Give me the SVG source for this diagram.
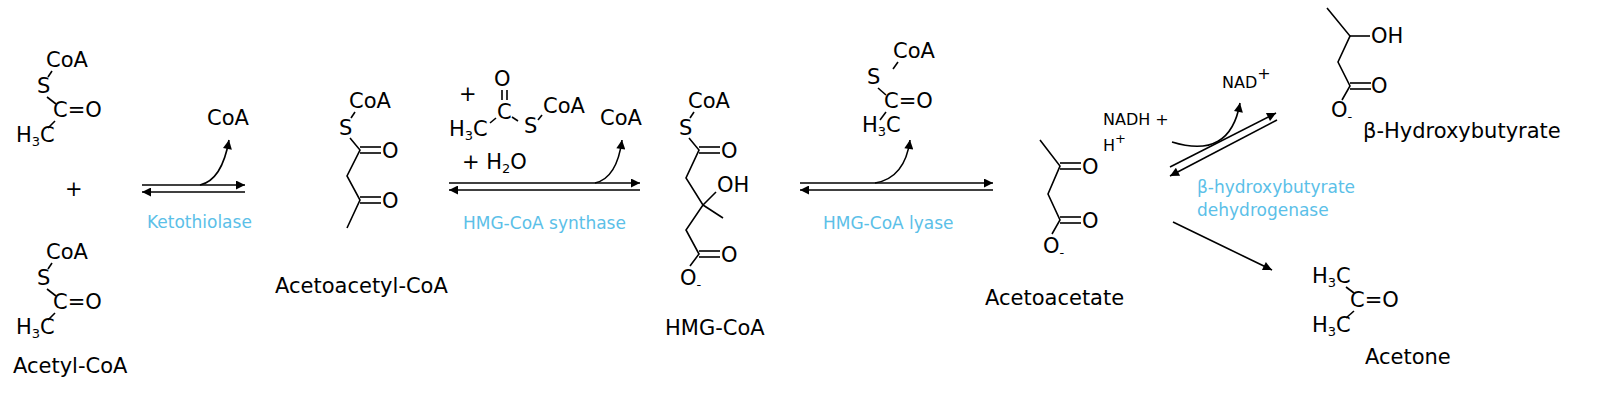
<svg xmlns="http://www.w3.org/2000/svg" width="1600" height="408" viewBox="0 0 1600 408">
<defs>
<marker id="ah" viewBox="0 0 10 10" refX="10" refY="5" markerWidth="17" markerHeight="9" markerUnits="userSpaceOnUse" orient="auto"><path d="M0,0L10,5L0,10z" style="fill:#000;stroke:none"/></marker>
<style>
text{font-family:"DejaVu Sans",sans-serif;font-size:21px;fill:#000}
.s{font-size:13px}
.e{font-size:17px;fill:#5bc0e8}
.n{font-size:16px}
line,path{stroke:#000;stroke-width:1.6;fill:none}
</style>
</defs>
<rect width="1600" height="408" fill="#fff"/>
<g id="acetylcoa1">
<text x="46" y="67">CoA</text><line x1="52" y1="71" x2="48" y2="77"/>
<text x="37" y="93">S</text><line x1="47" y1="97" x2="56" y2="104"/>
<text x="53" y="117">C=O</text><line x1="55" y1="121" x2="48" y2="128"/>
<text x="16" y="142">H<tspan class="s" dy="4">3</tspan><tspan dy="-4">C</tspan></text>
</g>
<text id="plus1" x="65" y="196">+</text>
<g id="acetylcoa2">
<text x="46" y="259">CoA</text><line x1="52" y1="263" x2="48" y2="269"/>
<text x="37" y="285">S</text><line x1="47" y1="289" x2="56" y2="296"/>
<text x="53" y="309">C=O</text><line x1="55" y1="313" x2="48" y2="320"/>
<text x="16" y="334">H<tspan class="s" dy="4">3</tspan><tspan dy="-4">C</tspan></text>
<text x="13" y="373">Acetyl-CoA</text>
</g>
<g id="acetoacetylcoa">
<text x="349" y="108">CoA</text><line x1="355" y1="112" x2="351" y2="118"/>
<text x="339" y="135">S</text>
<path d="M350,138L360,150L347,176L360,200L347,228"/>
<line x1="360" y1="147" x2="381" y2="147"/><line x1="360" y1="153" x2="381" y2="153"/>
<line x1="360" y1="197" x2="381" y2="197"/><line x1="360" y1="203" x2="381" y2="203"/>
<text x="382" y="158">O</text><text x="382" y="208">O</text>
<text x="275" y="293">Acetoacetyl-CoA</text>
</g>
<g id="hmgcoa">
<text x="688" y="108">CoA</text><line x1="694" y1="112" x2="690" y2="118"/>
<text x="679" y="135">S</text>
<path d="M689,138L699,150L686,178L703,205L686,230L699,254L690,266"/>
<line x1="699" y1="147" x2="720" y2="147"/><line x1="699" y1="153" x2="720" y2="153"/>
<line x1="699" y1="251" x2="720" y2="251"/><line x1="699" y1="257" x2="720" y2="257"/>
<line x1="703" y1="205" x2="716" y2="192"/><line x1="703" y1="205" x2="723" y2="218"/>
<text x="721" y="158">O</text><text x="717" y="192">OH</text><text x="721" y="262">O</text>
<text x="680" y="285">O<tspan class="s" dy="4">-</tspan></text>
<text x="665" y="335">HMG-CoA</text>
</g>
<g id="acetoacetate">
<path d="M1040,140L1060,166L1048,194L1060,220L1052,234"/>
<line x1="1060" y1="163" x2="1081" y2="163"/><line x1="1060" y1="169" x2="1081" y2="169"/>
<line x1="1060" y1="217" x2="1081" y2="217"/><line x1="1060" y1="223" x2="1081" y2="223"/>
<text x="1082" y="174">O</text><text x="1082" y="228">O</text>
<text x="1043" y="253">O<tspan class="s" dy="4">-</tspan></text>
<text x="985" y="305">Acetoacetate</text>
</g>
<g id="hydroxybutyrate">
<path d="M1327,8L1350,36L1338,62L1350,86L1342,100"/>
<line x1="1350" y1="36" x2="1370" y2="36"/>
<line x1="1350" y1="83" x2="1371" y2="83"/><line x1="1350" y1="89" x2="1371" y2="89"/>
<text x="1371" y="43">OH</text><text x="1371" y="93">O</text>
<text x="1331" y="117">O<tspan class="s" dy="4">-</tspan></text>
<text x="1363" y="138">β-Hydroxybutyrate</text>
</g>
<g id="acetone">
<text x="1312" y="283">H<tspan class="s" dy="4">3</tspan><tspan dy="-4">C</tspan></text>
<line x1="1346" y1="287" x2="1354" y2="293"/>
<text x="1350" y="307">C=O</text>
<line x1="1354" y1="311" x2="1346" y2="318"/>
<text x="1312" y="332">H<tspan class="s" dy="4">3</tspan><tspan dy="-4">C</tspan></text>
<text x="1365" y="364">Acetone</text>
</g>
<g id="reagents">
<text x="207" y="125">CoA</text>
<text x="459" y="101">+</text>
<text x="494" y="86">O</text>
<line x1="502" y1="90" x2="502" y2="100"/><line x1="507" y1="90" x2="507" y2="100"/>
<text x="497" y="119">C</text>
<line x1="496" y1="118" x2="490" y2="123"/><line x1="512" y1="117" x2="518" y2="121"/>
<text x="449" y="136">H<tspan class="s" dy="4">3</tspan><tspan dy="-4">C</tspan></text>
<text x="524" y="133">S</text><line x1="538" y1="120" x2="542" y2="115"/>
<text x="543" y="113">CoA</text>
<text x="462" y="169">+ H<tspan class="s" dy="4">2</tspan><tspan dy="-4">O</tspan></text>
<text x="600" y="125">CoA</text>
<text x="893" y="58">CoA</text><line x1="898" y1="62" x2="893" y2="69"/>
<text x="867" y="84">S</text><line x1="878" y1="88" x2="886" y2="95"/>
<text x="884" y="108">C=O</text><line x1="886" y1="112" x2="880" y2="120"/>
<text x="862" y="132">H<tspan class="s" dy="4">3</tspan><tspan dy="-4">C</tspan></text>
<text class="n" x="1103" y="125">NADH +</text>
<text class="n" x="1103" y="151">H<tspan class="s" dy="-8">+</tspan></text>
<text class="n" x="1222" y="88">NAD<tspan dy="-9">+</tspan></text>
</g>
<g id="enzymes">
<text class="e" x="147" y="228">Ketothiolase</text>
<text class="e" x="463" y="229">HMG-CoA synthase</text>
<text class="e" x="823" y="229">HMG-CoA lyase</text>
<text class="e" x="1197" y="193">β-hydroxybutyrate</text>
<text class="e" x="1197" y="216">dehydrogenase</text>
</g>
<g id="connectors">
<line x1="142" y1="185" x2="245" y2="185" marker-end="url(#ah)"/>
<line x1="245" y1="192" x2="142" y2="192" marker-end="url(#ah)"/>
<path d="M200,185Q222,180 229,140" marker-end="url(#ah)"/>
<line x1="449" y1="183" x2="640" y2="183" marker-end="url(#ah)"/>
<line x1="640" y1="190" x2="449" y2="190" marker-end="url(#ah)"/>
<path d="M595,183Q617,178 622,140" marker-end="url(#ah)"/>
<line x1="800" y1="183" x2="993" y2="183" marker-end="url(#ah)"/>
<line x1="993" y1="190" x2="800" y2="190" marker-end="url(#ah)"/>
<path d="M875,183Q905,178 910,140" marker-end="url(#ah)"/>
<line x1="1170" y1="167" x2="1276" y2="113" marker-end="url(#ah)"/>
<line x1="1277" y1="120" x2="1170" y2="176" marker-end="url(#ah)"/>
<path d="M1172,142Q1230,160 1240,103" marker-end="url(#ah)"/>
<line x1="1173" y1="222" x2="1272" y2="270" marker-end="url(#ah)"/>
</g>
</svg>
